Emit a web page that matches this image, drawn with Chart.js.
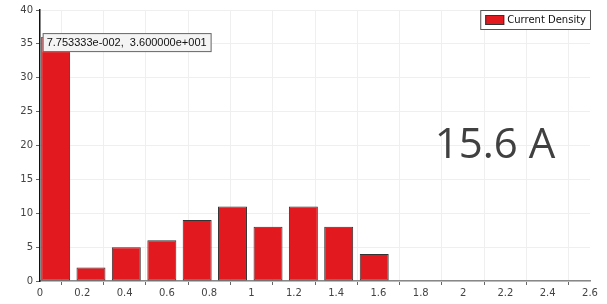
<!DOCTYPE html>
<html>
<head>
<meta charset="utf-8">
<script src="https://cdn.jsdelivr.net/npm/chart.js@4.4.1/dist/chart.umd.min.js"></script>
<style>
  html, body { margin: 0; padding: 0; background: #fff; }
  #wrap { width: 607px; height: 304px; position: relative; }
</style>
</head>
<body>
<div id="wrap"><canvas id="hist"></canvas></div>
<script>
// histogram bins (bar centres as drawn) and counts
const binCenters = [0.074, 0.241, 0.408, 0.576, 0.743, 0.910, 1.078, 1.245, 1.412, 1.580];
const counts = [36, 2, 5, 6, 9, 11, 8, 11, 8, 4];
const xTicks = [0, 0.2, 0.4, 0.6, 0.8, 1, 1.2, 1.4, 1.6, 1.8, 2, 2.2, 2.4, 2.6];
const yTicks = [0, 5, 10, 15, 20, 25, 30, 35, 40];
const seriesName = 'Current Density';
const hoverLabel = '7.753333e-002,  3.600000e+001';
const noteText = '15.6 A';

const tickFont = { family: 'DejaVu Sans', size: 10 };

// legend box, tooltip and the big label
const extras = {
  id: 'extras',
  afterDraw(chart) {
    const ctx = chart.ctx;
    const area = chart.chartArea;
    const xs = chart.scales.x, ys = chart.scales.y;
    ctx.save();

    // legend
    ctx.font = '10px "DejaVu Sans"';
    const tw = ctx.measureText(seriesName).width;
    const lx1 = area.right + 1, ly = 10;
    const lx0 = lx1 - (tw + 32);
    ctx.fillStyle = '#fff';
    ctx.fillRect(lx0, ly, lx1 - lx0, 20);
    ctx.strokeStyle = '#555';
    ctx.lineWidth = 1;
    ctx.strokeRect(lx0 + 0.5, ly + 0.5, lx1 - lx0 - 1, 19);
    ctx.fillStyle = '#e2191f';
    ctx.fillRect(lx0 + 5, ly + 5, 19, 10);
    ctx.strokeStyle = '#333';
    ctx.strokeRect(lx0 + 5.5, ly + 5.5, 18, 9);
    ctx.fillStyle = '#111';
    ctx.textBaseline = 'middle';
    ctx.fillText(seriesName, lx0 + 27, ly + 10.5);

    // tooltip on the first bar
    const px = xs.getPixelForValue(binCenters[0]);
    const py = ys.getPixelForValue(counts[0]);
    ctx.font = '11px "Liberation Sans"';
    const hw = ctx.measureText(hoverLabel).width;
    const tx = px - 13, ty = py - 4;
    ctx.fillStyle = '#f4f4f4';
    ctx.fillRect(tx, ty, hw + 9, 19);
    ctx.strokeStyle = '#666';
    ctx.strokeRect(tx + 0.5, ty + 0.5, hw + 8, 18);
    ctx.fillStyle = '#111';
    ctx.fillText(hoverLabel, tx + 4, ty + 10);

    // big annotation
    ctx.font = '42px "Open Sans"';
    ctx.fillStyle = '#404040';
    ctx.textAlign = 'center';
    ctx.textBaseline = 'alphabetic';
    ctx.fillText(noteText, 495, 158);
    ctx.restore();
  }
};

new Chart(document.getElementById('hist'), {
  type: 'bar',
  data: {
    datasets: [{
      label: seriesName,
      data: binCenters.map((x, i) => ({ x: x, y: counts[i] })),
      backgroundColor: '#e2191f',
      borderColor: '#333333',
      borderWidth: 1,
      borderSkipped: false,
      barPercentage: 0.82,
      categoryPercentage: 1
    }]
  },
  options: {
    responsive: true,
    maintainAspectRatio: false,
    animation: false,
    layout: { padding: { top: 10, right: 17, left: 0, bottom: 0 } },
    plugins: {
      legend: { display: false },
      tooltip: { enabled: false }
    },
    scales: {
      x: {
        type: 'linear',
        min: 0,
        max: 2.6,
        offset: false,
        afterBuildTicks: s => { s.ticks = xTicks.map(v => ({ value: v })); },
        afterFit: s => { s.height = 23; },
        ticks: {
          font: tickFont,
          color: '#444',
          padding: 2,
          maxRotation: 0,
          callback: v => String(v)
        },
        grid: { color: '#efefef', tickColor: '#666', tickLength: 4 },
        border: { color: '#888', width: 1.5 }
      },
      y: {
        min: 0,
        max: 40,
        afterBuildTicks: s => { s.ticks = yTicks.map(v => ({ value: v })); },
        afterFit: s => { s.width = 40; },
        ticks: { font: tickFont, color: '#444', padding: 3 },
        grid: { color: '#efefef', tickColor: '#666', tickLength: 4 },
        border: { color: '#111', width: 1.5 }
      }
    }
  },
  plugins: [extras]
});
</script>
</body>
</html>
